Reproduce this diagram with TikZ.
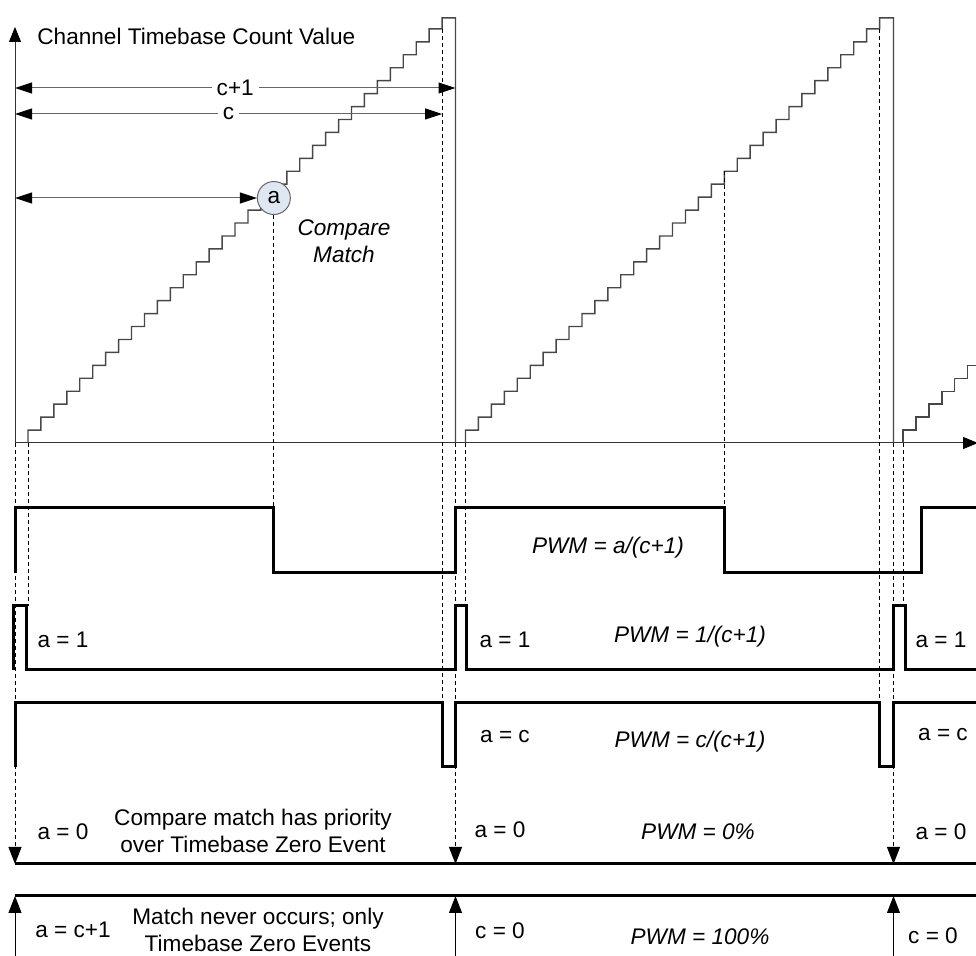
\documentclass[tikz,border=0pt]{standalone}
\usepackage{fontspec}
\setmainfont{Liberation Sans}
\usetikzlibrary{arrows.meta,calc}

\definecolor{matchfill}{RGB}{222,231,242}

\begin{document}
\begin{tikzpicture}[x=0.5pt,y=-0.5pt,
every node/.style={font=\fontsize{11.3}{13.5}\selectfont, inner sep=0pt},
axis/.style={line width=0.5pt, draw=black!80, -{Triangle[length=7.5pt,width=6pt,black]}},
stair/.style={line width=0.7pt, draw=black!72},
wave/.style={line width=1.5pt},
guide/.style={line width=0.5pt, dash pattern=on 2pt off 1.5pt},
dim/.style={line width=0.5pt, draw=black!60, {Triangle[length=8.5pt,width=5.5pt,black]}-{Triangle[length=8.5pt,width=5.5pt,black]}},
tip/.style={-{Triangle[length=8.5pt,width=6.5pt,black]}},
pwm/.style={font=\fontsize{11.3}{13.5}\selectfont\itshape},
info/.style={draw=none,fill=none,inner sep=0pt}]

%% local variables
\def \tb {12.94}
\def \axisy {443}
\def \xend {980}

\useasboundingbox (0,0) rectangle (976,956);

%% levels of the waveforms
\coordinate (pwmA) at (0,508);
\coordinate (pwmB) at (0,606);
\coordinate (pwmC) at (0,703);
\coordinate (zero) at (0,864);
\coordinate (full) at (0,896);

%% axes
\coordinate (O) at (15,\axisy);
\draw[axis] (O) -- (15,27);
\draw[axis] (O) -- (978,\axisy);
\node[info, anchor=west] (title) at (37,36) {Channel Timebase Count Value};

%% timebase ramps
\foreach \n/\rs/\ze in {1/28/455.5, 2/465.5/893.5} {
  \coordinate (R-\n) at (\rs,\axisy);
  \coordinate (C-\n) at ({\rs+32*\tb},{\axisy-32*\tb});
  \coordinate (Z-\n) at (\ze,\axisy);
  \draw[stair] (R-\n) \foreach \k in {1,...,32} { -- ++(0,-\tb) -- ++(\tb,0) }
    -- ++(0,-11) -- (\ze,17.9) -- (Z-\n);
}
\coordinate (R-3) at (903,\axisy);
\draw[stair] (R-3) \foreach \k in {1,...,6} { -- ++(0,-\tb) -- ++(\tb,0) };

%% compare match
\node[circle, draw=black!60, line width=0.5pt, fill=matchfill, minimum size=16.5pt] (match) at ({28+19*\tb},198) {a};
\coordinate (M-2) at ({465.5+20*\tb},{\axisy-21*\tb});
\node[info, pwm, align=center] (cm) at (344,241) {Compare\\Match};

%% period arrows
\draw[dim] (O |- 0,88) -- (Z-1 |- 0,88) node[midway, fill=white, inner xsep=2.5pt] (cp1) {c+1};
\draw[dim] (O |- 0,114) -- (C-1 |- 0,114) node[midway, fill=white, inner xsep=2.5pt] (cp) {c};
\draw[dim] (O |- match) -- (match);

%% dashed guides
\foreach \p in {O, Z-1, Z-2}
      \draw[guide, tip] (\p) -- (\p |- zero);
\foreach \n in {1,2,3}
      \draw[guide] (R-\n) -- (R-\n |- pwmB);
\foreach \n in {1,2}
      \draw[guide] (C-\n) -- (C-\n |- pwmC);
\draw[guide] (match) -- (match |- pwmA);
\draw[guide] (M-2) -- (M-2 |- pwmA);

%% PWM outputs
\draw[wave] (15,573) -- (15,508) -- (273.9,508) -- (273.9,573) -- (455.5,573) -- (455.5,508)
  -- (724.3,508) -- (724.3,573) -- (921,573) -- (921,508) -- (\xend,508);
\draw[wave] (13,670) -- (13,606) -- (26,606) -- (26,670) -- (455.5,670) -- (455.5,606)
  -- (466.5,606) -- (466.5,670) -- (893.5,670) -- (893.5,606) -- (905,606) -- (905,670) -- (\xend,670);
\draw[wave] (15,767) -- (15,703) -- (442,703) -- (442,767) -- (455.5,767) -- (455.5,703)
  -- (879.6,703) -- (879.6,767) -- (893.5,767) -- (893.5,703) -- (\xend,703);
\draw[wave] (O |- zero) -- (\xend,864);
\draw[wave] (O |- full) -- (\xend,896);
\foreach \p in {O, Z-1, Z-2}
      \draw[line width=0.5pt, tip] (\p |- 0,960) -- (\p |- full);

%% place other information
\node[info, pwm] (p1) at (608,548) {PWM = a/(c+1)};
\node[info] (a1-0) at (63,640) {a = 1};
\node[info] (a1-1) at (505,640) {a = 1};
\node[info] (a1-2) at (941,640) {a = 1};
\node[info, pwm] (p2) at (690,637) {PWM = 1/(c+1)};
\node[info] (ac-1) at (505,737) {a = c};
\node[info] (ac-2) at (943,735) {a = c};
\node[info, pwm] (p3) at (690,742) {PWM = c/(c+1)};
\node[info] (a0-0) at (63,832) {a = 0};
\node[info, align=center] (prio) at (253,831) {Compare match has priority\\over Timebase Zero Event};
\node[info] (a0-1) at (500,830) {a = 0};
\node[info] (a0-2) at (941,832) {a = 0};
\node[info, pwm] (p4) at (698,832) {PWM = 0\%};
\node[info] (ac1-0) at (73,930) {a = c+1};
\node[info, align=center] (never) at (258,930) {Match never occurs; only\\Timebase Zero Events};
\node[info] (c0-1) at (500,931) {c = 0};
\node[info] (c0-2) at (933,936) {c = 0};
\node[info, pwm] (p5) at (700,937) {PWM = 100\%};

\end{tikzpicture}
\end{document}
